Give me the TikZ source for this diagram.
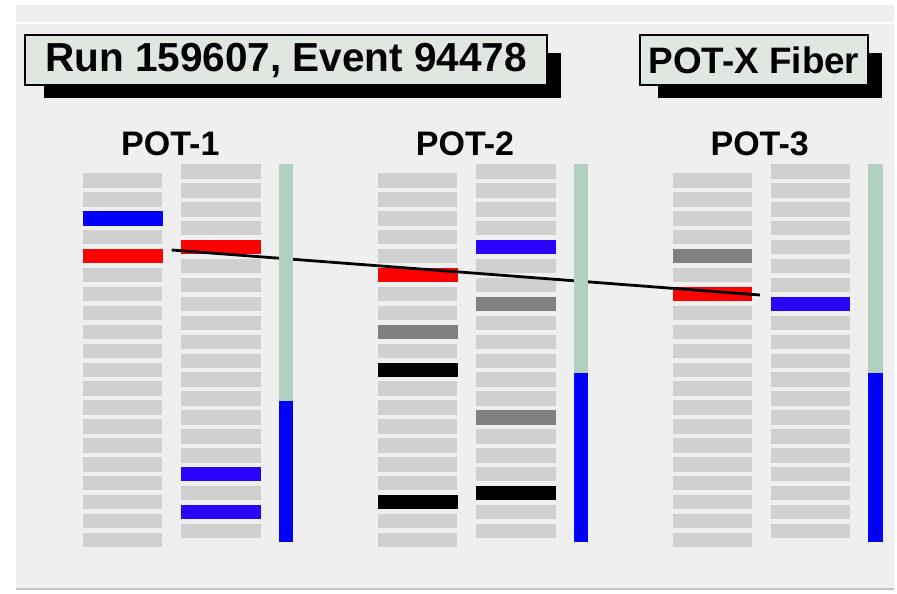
\documentclass[tikz,border=0pt]{standalone}
\usepackage{fontspec}
\setmainfont{Liberation Sans}
\usetikzlibrary{calc}
\definecolor{panelgray}{RGB}{239,239,239}
\definecolor{rulegray}{RGB}{200,192,200}
\definecolor{boxfill}{RGB}{224,230,224}
\definecolor{stripgray}{RGB}{208,208,208}
\definecolor{fibergreen}{RGB}{178,208,192}
\definecolor{hitblue}{RGB}{0,0,255}
\definecolor{hitviolet}{RGB}{42,0,255}
\definecolor{hitred}{RGB}{255,0,0}
\definecolor{hitgray}{RGB}{128,128,128}
\pgfdeclarelayer{back}
\pgfsetlayers{back,main}
\begin{document}
\begin{tikzpicture}[x=1pt,y=-1pt,
  titlebox/.style={draw=black,line width=1.6pt,fill=boxfill,inner sep=0pt,
    font=\bfseries\fontsize{40.5}{48}\selectfont},
  fiberbox/.style={titlebox,font=\bfseries\fontsize{36.8}{43}\selectfont},
  shadow/.style={fill=black},
  potlabel/.style={anchor=base,inner sep=0pt,font=\bfseries\fontsize{34}{40}\selectfont},
  strip/.style={fill=stripgray},
  track/.style={draw=black,line width=2.8pt}]
\useasboundingbox (0,0) rectangle (897,594);
% page and panel background
\begin{pgfonlayer}{back}
\fill[white] (0,0) rectangle (897,594);
\fill[panelgray] (16,5) rectangle (894,588);
\draw[white,line width=1.5pt] (16,23) -- (894,23);
\draw[rulegray,line width=2pt] (16,589) -- (894,589);
\end{pgfonlayer}

% header boxes with drop shadows behind them
\node[titlebox,minimum width=522,minimum height=50] (title) at (286,60) {Run 159607, Event 94478};
\node[fiberbox,minimum width=228,minimum height=50] (fiber) at (754,60) {POT-X Fiber\hspace{6pt}};
\begin{pgfonlayer}{back}
\fill[shadow] ($(title.north west)+(20,19)$) rectangle ($(title.south east)+(13,12)$);
\fill[shadow] ($(fiber.north west)+(19,19)$) rectangle ($(fiber.south east)+(13,12)$);
\end{pgfonlayer}

% three pots: label, two strip columns
\foreach \p/\bx in {1/83.3,2/378,3/672.7}{
  \node[potlabel] (pot\p) at (\bx+87,155) {POT-\p};
  \foreach \k in {0,...,19}{
    \fill[strip] (\bx,173.3+\k*18.92) rectangle ++(79,14.4);
    \fill[strip] (\bx+98,164.3+\k*18.92) rectangle ++(79.5,14.4);
  }
}

% hit strips: pot base x / column offset / row top / row / colour
\foreach \bx/\off/\top/\k/\c in {
  83.3/0/173.3/2/hitblue, 83.3/0/173.3/4/hitred,
  83.3/98/164.3/4/hitred, 83.3/98/164.3/16/hitviolet, 83.3/98/164.3/18/hitviolet,
  378/0/173.3/5/hitred, 378/0/173.3/8/hitgray, 378/0/173.3/10/black, 378/0/173.3/17/black,
  378/98/164.3/4/hitviolet, 378/98/164.3/7/hitgray, 378/98/164.3/13/hitgray, 378/98/164.3/17/black,
  672.7/0/173.3/4/hitgray, 672.7/0/173.3/6/hitred,
  672.7/98/164.3/7/hitviolet}{
  \fill[\c] (\bx+\off,\top+\k*18.92) rectangle ++(79.5,14.4);
}

% reconstructed track
\coordinate (trkA) at (171.7,250);
\coordinate (trkB) at (760,295);
\draw[track] (trkA) -- (trkB);

% fiber bars with their lit part
\foreach \bx/\lit in {83.3/400.7,378/373.3,672.7/372.7}{
  \fill[fibergreen] (\bx+195.7,164.3) rectangle (\bx+209.8,542.3);
  \fill[hitblue] (\bx+195.7,\lit) rectangle (\bx+209.8,542.3);
}
\end{tikzpicture}
\end{document}
